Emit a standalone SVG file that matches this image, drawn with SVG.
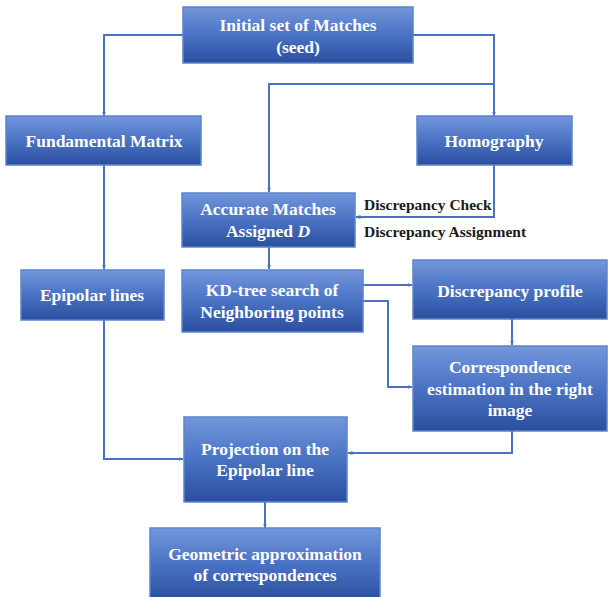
<svg xmlns="http://www.w3.org/2000/svg" width="608" height="597" viewBox="0 0 608 597">
<defs>
<linearGradient id="g" x1="0" y1="0" x2="0" y2="1">
<stop offset="0" stop-color="#7397db"/>
<stop offset="0.5" stop-color="#4a72c4"/>
<stop offset="1" stop-color="#2b4f9e"/>
</linearGradient>
<marker id="a" viewBox="0 0 10 10" refX="9" refY="5" markerWidth="5" markerHeight="5" orient="auto" markerUnits="userSpaceOnUse">
<path d="M0,1 L10,5 L0,9 z" fill="#4a72c4"/>
</marker>
</defs>
<style>
.box{fill:url(#g);stroke:#5b84cc;stroke-width:1.5}
.t{font-family:"Liberation Serif","Times New Roman",serif;font-weight:bold;font-size:17.5px;fill:#ffffff;text-anchor:middle}
.lbl{font-family:"Liberation Serif","Times New Roman",serif;font-weight:bold;font-size:15.5px;fill:#1a1a1a}
.c{fill:none;stroke:#4a72c4;stroke-width:2;marker-end:url(#a)}
</style>
<rect width="608" height="597" fill="#ffffff"/>
<g id="connectors">
<path class="c" d="M183,35 H104 V116"/>
<path class="c" d="M413,35 H494 V116"/>
<path class="c" d="M494,84 H269 V192"/>
<path class="c" d="M494,165 V217 H356"/>
<path class="c" d="M104,165 V269"/>
<path class="c" d="M269,247 V269"/>
<path class="c" d="M363,285 H412"/>
<path class="c" d="M363,301 H388 V387 H412"/>
<path class="c" d="M512,319 V345"/>
<path class="c" d="M104,320 V459 H183"/>
<path class="c" d="M512,431 V453 H348"/>
<path class="c" d="M265,502 V528"/>
</g>
<g id="n-seed"><rect class="box" x="183" y="7" width="230" height="56"/>
<text class="t" x="298" y="31">Initial set of Matches</text><text class="t" x="298" y="53">(seed)</text></g>
<g id="n-fundamental"><rect class="box" x="6" y="116" width="195" height="49"/>
<text class="t" x="104" y="147">Fundamental Matrix</text></g>
<g id="n-homography"><rect class="box" x="417" y="116" width="155" height="49"/>
<text class="t" x="494" y="147">Homography</text></g>
<g id="n-accurate"><rect class="box" x="182" y="193" width="173" height="54"/>
<text class="t" x="268" y="215">Accurate Matches</text><text class="t" x="268" y="237">Assigned <tspan font-style="italic">D</tspan></text></g>
<g id="labels">
<text class="lbl" x="364" y="210">Discrepancy Check</text>
<text class="lbl" x="364" y="237">Discrepancy Assignment</text>
</g>
<g id="n-epipolar"><rect class="box" x="21" y="270" width="143" height="50"/>
<text class="t" x="92" y="301">Epipolar lines</text></g>
<g id="n-kdtree"><rect class="box" x="182" y="270" width="181" height="62"/>
<text class="t" x="272" y="296">KD-tree search of</text><text class="t" x="272" y="318">Neighboring points</text></g>
<g id="n-profile"><rect class="box" x="413" y="260" width="194" height="59"/>
<text class="t" x="510" y="297">Discrepancy profile</text></g>
<g id="n-correspondence"><rect class="box" x="413" y="346" width="194" height="85"/>
<text class="t" x="510" y="373">Correspondence</text><text class="t" x="510" y="395">estimation in the right</text><text class="t" x="510" y="416">image</text></g>
<g id="n-projection"><rect class="box" x="184" y="417" width="163" height="85"/>
<text class="t" x="265" y="455">Projection on the</text><text class="t" x="265" y="476">Epipolar line</text></g>
<g id="n-geometric"><rect class="box" x="150" y="528" width="230" height="72"/>
<text class="t" x="265" y="560">Geometric approximation</text><text class="t" x="265" y="581">of correspondences</text></g>
</svg>
